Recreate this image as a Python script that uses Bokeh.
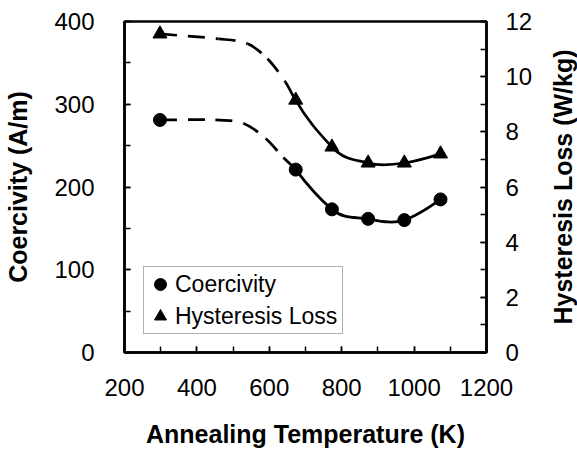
import math
from bokeh.plotting import figure
from bokeh.layouts import row
from bokeh.models import Range1d, LinearAxis, SingleIntervalTicker, FixedTicker, Legend, LegendItem
from bokeh.embed import file_html
from bokeh.resources import INLINE

# ---- data ----
temp = [298, 673, 773, 873, 973, 1073]          # Annealing temperature (K)
coercivity = [281, 221, 173, 161.5, 160, 185]   # A/m
hysteresis = [11.55, 9.15, 7.45, 6.87, 6.87, 7.2]  # W/kg

# points read along the dashed (extrapolated) parts of the curves
coer_guide_temp = [451, 529, 590, 639]
coer_guide = [281, 276.7, 258.6, 235.6]
hyst_guide_temp = [460, 540, 595, 645]
hyst_guide = [11.37, 11.19, 10.65, 9.80]

x_title = "Annealing Temperature (K)"
y_title = "Coercivity (A/m)"
y2_title = "Hysteresis Loss (W/kg)"

FONT = "Liberation Sans"


def bezier_segments(xs, ys, scales):
    """Cubic Hermite (in x) segments expressed as Bezier control points."""
    n = len(xs)
    m = []
    for i in range(n):
        if i == 0:
            m.append((ys[1] - ys[0]) / (xs[1] - xs[0]))
        elif i == n - 1:
            m.append((ys[-1] - ys[-2]) / (xs[-1] - xs[-2]))
        else:
            m.append((ys[i + 1] - ys[i - 1]) / (xs[i + 1] - xs[i - 1]))
    seg = dict(x0=[], y0=[], x1=[], y1=[], cx0=[], cy0=[], cx1=[], cy1=[])
    for i in range(n - 1):
        dx = xs[i + 1] - xs[i]
        s = scales[i]
        seg["x0"].append(xs[i]); seg["y0"].append(ys[i])
        seg["x1"].append(xs[i + 1]); seg["y1"].append(ys[i + 1])
        seg["cx0"].append(xs[i] + dx / 3); seg["cy0"].append(ys[i] + s * m[i] * dx / 3)
        seg["cx1"].append(xs[i + 1] - dx / 3); seg["cy1"].append(ys[i + 1] - s * m[i + 1] * dx / 3)
    return seg


def split(seg, k):
    a = {key: v[:k] for key, v in seg.items()}
    b = {key: v[k:] for key, v in seg.items()}
    return a, b


W_MAIN = 536
W_SIDE = 41
H = 459

p = figure(width=W_MAIN, height=H, x_range=Range1d(200, 1200), y_range=Range1d(0, 400),
           output_backend="svg", toolbar_location=None,
           min_border_left=124, min_border_right=50, min_border_top=21, min_border_bottom=107)
p.extra_y_ranges = {"right": Range1d(0, 12)}
p.xgrid.visible = False
p.ygrid.visible = False
p.outline_line_color = "black"
p.outline_line_width = 2.5
p.background_fill_color = "white"
p.border_fill_color = "white"

right_axis = LinearAxis(y_range_name="right")
p.add_layout(right_axis, "right")

p.xaxis[0].ticker = SingleIntervalTicker(interval=200, num_minor_ticks=2)
p.yaxis[0].ticker = SingleIntervalTicker(interval=100, num_minor_ticks=2)
right_axis.ticker = SingleIntervalTicker(interval=2, num_minor_ticks=2)

p.xaxis[0].axis_label = x_title
p.yaxis[0].axis_label = y_title


def style_titles(ax):
    ax.axis_label_text_font = FONT
    ax.axis_label_text_font_size = "25px"
    ax.axis_label_text_font_style = "bold"
    ax.axis_label_text_color = "black"


for ax in [p.xaxis[0], p.yaxis[0], right_axis]:
    ax.axis_line_width = 2.5
    ax.axis_line_color = "black"
    ax.major_tick_in = 6
    ax.major_tick_out = 0
    ax.minor_tick_in = 6
    ax.minor_tick_out = 0
    ax.major_tick_line_width = 1.5
    ax.minor_tick_line_width = 1.5
    ax.major_tick_line_color = "black"
    ax.minor_tick_line_color = "black"
    ax.major_label_text_font = FONT
    ax.major_label_text_font_size = "24px"
    ax.major_label_text_color = "black"
    style_titles(ax)

p.xaxis[0].major_label_standoff = 26
p.xaxis[0].axis_label_standoff = 21
p.yaxis[0].major_label_standoff = 30
p.yaxis[0].axis_label_standoff = 19
right_axis.major_label_standoff = 19

LW = 2.75
# Coercivity curve
cx = [temp[0]] + coer_guide_temp + temp[1:]
cy = [coercivity[0]] + coer_guide + coercivity[1:]
nd = len(coer_guide) + 1
cseg = bezier_segments(cx, cy, [1.0] * nd + [1.25] * (len(cx) - 1 - nd))
c_dash, c_solid = split(cseg, nd)
p.bezier(line_color="black", line_width=LW, line_dash="17 11", **c_dash)
p.bezier(line_color="black", line_width=LW, **c_solid)

# Hysteresis curve
hx = [temp[0]] + hyst_guide_temp + temp[1:]
hy = [hysteresis[0]] + hyst_guide + hysteresis[1:]
nd2 = len(hyst_guide) + 1
hseg = bezier_segments(hx, hy, [1.0] * nd2 + [1.25] * (len(hx) - 1 - nd2))
h_dash, h_solid = split(hseg, nd2)
p.bezier(line_color="black", line_width=LW, line_dash="17 11", y_range_name="right", **h_dash)
p.bezier(line_color="black", line_width=LW, y_range_name="right", **h_solid)

c_r = p.scatter(temp, coercivity, marker="circle", size=13, color="black")
h_r = p.scatter(temp, hysteresis, marker="triangle", size=14, color="black", y_range_name="right")

legend = Legend(items=[LegendItem(label="Coercivity", renderers=[c_r]),
                       LegendItem(label="Hysteresis Loss", renderers=[h_r])],
                location=(19, 18), margin=0, padding=1, spacing=0,
                glyph_width=30, glyph_height=32, label_standoff=0,
                label_width=166, label_height=32,
                label_text_font=FONT, label_text_font_size="23px", label_text_color="black",
                border_line_color="#666666", border_line_width=1,
                background_fill_color="white", background_fill_alpha=1.0)
p.add_layout(legend)

# narrow side figure carrying the right-hand title (reads bottom-to-top)
q = figure(width=W_SIDE, height=H, x_range=Range1d(0, 1), y_range=Range1d(0, 12),
           output_backend="svg", toolbar_location=None,
           min_border_left=40, min_border_right=0, min_border_top=21, min_border_bottom=107)
q.xaxis.visible = False
q.xgrid.visible = False
q.ygrid.visible = False
q.outline_line_color = None
q.background_fill_color = "white"
q.border_fill_color = "white"
qa = q.yaxis[0]
qa.ticker = FixedTicker(ticks=[])
qa.axis_line_color = None
qa.major_tick_line_color = None
qa.minor_tick_line_color = None
qa.major_tick_out = 0
qa.minor_tick_out = 0
qa.major_label_standoff = 0
qa.axis_label = y2_title
qa.axis_label_standoff = 0
style_titles(qa)

layout = row(p, q, spacing=0)
open("out.html", "w").write(file_html(layout, INLINE))
